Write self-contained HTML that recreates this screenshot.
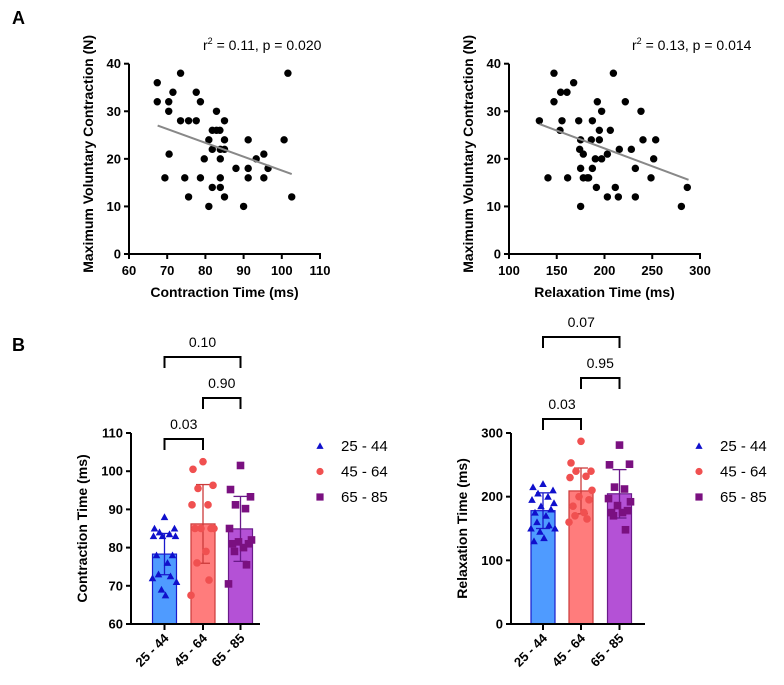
<!DOCTYPE html>
<html><head><meta charset="utf-8">
<style>
html,body{margin:0;padding:0;background:#fff;}
svg{display:block;font-family:"Liberation Sans",Arial,sans-serif;}
.tk{font-size:13px;font-weight:bold;fill:#000;}
.ttl{font-size:14px;font-weight:bold;fill:#000;}
.note{font-size:14px;fill:#000;}
.lg{font-size:15px;fill:#000;}
</style></head>
<body>
<svg id="fig" width="784" height="685" viewBox="0 0 784 685">
<text x="12" y="24" style="font-size:18px;font-weight:bold">A</text>
<text x="12" y="351" style="font-size:18px;font-weight:bold">B</text>
</svg>
<script>
// ---- Data ----
const ctX=[67.4,67.4,71.5,70.4,70.4,73.5,73.5,75.6,77.6,77.6,78.7,82.9,80.9,81.8,82.9,83.8,85,85,81.8,83.9,85,83.9,79.7,70.5,69.4,74.6,78.7,83.9,75.6,81.8,83.9,85,80.9,90,88,91.2,91.2,91.2,93.3,95.3,95.3,96.4,100.6,101.6,102.6];
const ctY=[36,32,34,32,30,38,28,28,34,28,32,30,24,26,26,26,28,24,22,22,22,20,20,21,16,16,16,16,12,14,14,12,10,10,18,18,16,24,20,21,16,18,24,38,12];
const ctFit=[[67.5,27],[102.6,16.8]];
const rtX=[131.8,140.8,147.1,147.1,153.4,155.5,154.1,160.7,161.4,167.7,173,175,174,175,175,177.8,177.8,182,183.4,187.3,187.3,186.2,190.4,191.5,192.5,194.6,194.6,197,197,203,203,206.1,209.3,211.3,214.5,215.5,221.8,228.1,232.3,232.3,238.2,240.3,248.7,251.5,253.6,280.5,286.7];
const rtY=[28,16,38,32,26,28,34,34,16,36,28,24,22,18,10,21,16,16,16,18,28,24,20,14,32,24,26,30,20,21,12,26,38,14,12,22,32,22,18,12,30,24,16,20,24,10,14];
const rtFit=[[132,27.3],[288,15.6]];
const groups=["25 - 44","45 - 64","65 - 85"];
const ctMean=[78.3,86.2,84.9];
const ctSD=[5.4,10.3,8.5];
const ctPts=[[88,85,85,84,83.5,83,83,83,78,78,76,73,72.5,72,71,69,67.5],[102.5,100.5,96.3,95.5,91.2,91.2,85,85,85,85,79,76,71.5,67.5],[101.5,95.2,93.3,91.2,90.2,85,82,81.5,81,81,80,79,75.5,70.5]];
const rtMean=[178,209,204.5];
const rtSD=[28,36,38];
const rtPts=[[220,215,210,205,200,195,190,185,180,175,170,160,155,150,150,145,135,130],[287,253,240,240,232,230,210,200,195,185,175,170,165,160],[281,250,251,215,212,197,192,186,178,175,175,170,148]];
const ctP=["0.10","0.90","0.03"];
const rtP=["0.07","0.95","0.03"];

const NS="http://www.w3.org/2000/svg";
const svg=document.getElementById('fig');
function mk(tag,attrs,parent){const e=document.createElementNS(NS,tag);for(const k in attrs)e.setAttribute(k,attrs[k]);(parent||svg).appendChild(e);return e;}
function txt(x,y,s,cls,anchor,parent){const t=mk('text',{x:x,y:y,class:cls,'text-anchor':anchor||'start'},parent);t.textContent=s;return t;}

function scatter(o){
  const g=mk('g',{});
  
  
  const sx=v=>o.x0+(v-o.xmin)/(o.xmax-o.xmin)*(o.x1-o.x0);
  const sy=v=>o.y0-(v-o.ymin)/(o.ymax-o.ymin)*(o.y0-o.y1);
  mk('line',{x1:o.x0,y1:o.y1,x2:o.x0,y2:o.y0+1,stroke:'#000','stroke-width':2},g);
  mk('line',{x1:o.x0-1,y1:o.y0,x2:o.x1+1,y2:o.y0,stroke:'#000','stroke-width':2},g);
  o.yt.forEach(v=>{mk('line',{x1:o.x0-5,y1:sy(v),x2:o.x0,y2:sy(v),stroke:'#000','stroke-width':2},g);
    const t=txt(o.x0-8,sy(v)+4.5,String(v),'tk','end',g);});
  o.xt.forEach(v=>{mk('line',{x1:sx(v),y1:o.y0,x2:sx(v),y2:o.y0+5,stroke:'#000','stroke-width':2},g);
    const t=txt(sx(v),o.y0+21,String(v),'tk','middle',g);});
  const xt=txt((o.x0+o.x1)/2,o.y0+43,o.xl,'ttl','middle',g);
  
  const yt=txt(0,0,'Maximum Voluntary Contraction (N)','ttl','middle',g);
  yt.setAttribute('transform','translate('+(o.x0-36)+','+((o.y0+o.y1)/2-5)+') rotate(-90)');
  
  o.X.forEach((v,i)=>{const c=mk('circle',{cx:sx(v),cy:sy(o.Y[i]),r:3.7,fill:'#000'},g);
    });
  const l=mk('line',{x1:sx(o.fit[0][0]),y1:sy(o.fit[0][1]),x2:sx(o.fit[1][0]),y2:sy(o.fit[1][1]),stroke:'#888','stroke-width':2},g);
  
  const n=mk('text',{x:o.nx,y:50,class:'note'},g);
  
  n.innerHTML='r<tspan dy="-6" font-size="9">2</tspan><tspan dy="6"> = '+o.note+'</tspan>';
}
scatter({name:'contraction-scatter',x0:129,x1:320,y0:254,y1:63.7,xmin:60,xmax:110,ymin:0,ymax:40,xt:[60,70,80,90,100,110],yt:[0,10,20,30,40],X:ctX,Y:ctY,fit:ctFit,xl:'Contraction Time (ms)',note:'0.11, p = 0.020',nx:203});
scatter({name:'relaxation-scatter',x0:509,x1:700,y0:254,y1:63.7,xmin:100,xmax:300,ymin:0,ymax:40,xt:[100,150,200,250,300],yt:[0,10,20,30,40],X:rtX,Y:rtY,fit:rtFit,xl:'Relaxation Time (ms)',note:'0.13, p = 0.014',nx:632});

const fills=['#4f9bff','#ff7c7c','#b451d6'];
const strokes=['#1a1acc','#cc3a3a','#6a1a8a'];
const mcol=['#1010cc','#f05050','#7a1080'];
const jit=[0,-10,10,-5,5,-11,11,-2,8,-8,3,-6,6,-12,12,-3,1,-9];
function marker(g,k,x,y,s){
  let e;
  if(k==0) e=mk('polygon',{points:(x)+','+(y-s)+' '+(x-s)+','+(y+s*0.8)+' '+(x+s)+','+(y+s*0.8),fill:mcol[0]},g);
  else if(k==1) e=mk('circle',{cx:x,cy:y,r:s,fill:mcol[1]},g);
  else e=mk('rect',{x:x-s,y:y-s,width:2*s,height:2*s,fill:mcol[2]},g);
  return e;
}
function bars(o){
  const g=mk('g',{});
  
  
  const sy=v=>o.y0-(v-o.ymin)/(o.ymax-o.ymin)*(o.y0-o.y1);
  const bw=24;
  o.mean.forEach((m,i)=>{
    const cx=o.cx[i];
    const r=mk('rect',{x:cx-bw/2,y:sy(m),width:bw,height:o.y0-sy(m),fill:fills[i],stroke:strokes[i],'stroke-width':1.2},g);
    
    const hi=sy(m+o.sd[i]),lo=sy(m-o.sd[i]);
    mk('line',{x1:cx,y1:hi,x2:cx,y2:lo,stroke:strokes[i],'stroke-width':1.3},g);
    mk('line',{x1:cx-7,y1:hi,x2:cx+7,y2:hi,stroke:strokes[i],'stroke-width':1.3},g);
    mk('line',{x1:cx-7,y1:lo,x2:cx+7,y2:lo,stroke:strokes[i],'stroke-width':1.3},g);
    o.pts[i].forEach((v,j)=>{
      const e=marker(g,i,cx+jit[j%jit.length],sy(v),3.8);
      
    });
    mk('line',{x1:cx,y1:o.y0,x2:cx,y2:o.y0+6,stroke:'#000','stroke-width':2},g);
    const t=txt(0,0,groups[i],'tk','end',g);
    t.setAttribute('transform','translate('+(cx+5)+','+(o.y0+15)+') rotate(-45)');
    
  });
  mk('line',{x1:o.x0,y1:o.y1,x2:o.x0,y2:o.y0+1,stroke:'#000','stroke-width':2},g);
  mk('line',{x1:o.x0-1,y1:o.y0,x2:o.xe,y2:o.y0,stroke:'#000','stroke-width':2},g);
  o.yt.forEach(v=>{mk('line',{x1:o.x0-5,y1:sy(v),x2:o.x0,y2:sy(v),stroke:'#000','stroke-width':2},g);
    const t=txt(o.x0-8,sy(v)+4.5,String(v),'tk','end',g);});
  const yt=txt(0,0,o.yl,'ttl','middle',g);
  yt.setAttribute('transform','translate('+(o.x0-44)+','+((o.y0+o.y1)/2)+') rotate(-90)');
  
  const br=[[0,2,o.by[0]],[1,2,o.by[1]],[0,1,o.by[2]]];
  br.forEach((b,k)=>{
    const a=o.cx[b[0]],c=o.cx[b[1]],y=b[2];
    const p=mk('path',{d:'M'+a+','+(y+11)+'V'+y+'H'+c+'V'+(y+11),fill:'none',stroke:'#000','stroke-width':2},g);
    
    const t=txt((a+c)/2,y-10,o.p[k],'note','middle',g);
    
  });
  groups.forEach((gname,i)=>{
    const y=o.ly+i*25.5;
    const e=marker(g,i,o.lx,y,3.6);
    
    const t=txt(o.lx+21,y+5,gname,'lg','start',g);
    
  });
}
bars({name:'contraction-bar-chart',x0:131,xe:260,y0:624,y1:433,ymin:60,ymax:110,yt:[60,70,80,90,100,110],cx:[164.5,203,240.5],mean:ctMean,sd:ctSD,pts:ctPts,yl:'Contraction Time (ms)',by:[357,398,439],p:ctP,lx:320,ly:446});
bars({name:'relaxation-bar-chart',x0:511,xe:645,y0:624,y1:433,ymin:0,ymax:300,yt:[0,100,200,300],cx:[543,581,619.5],mean:rtMean,sd:rtSD,pts:rtPts,yl:'Relaxation Time (ms)',by:[337,378,419],p:rtP,lx:699,ly:446});
</script>
</body></html>
